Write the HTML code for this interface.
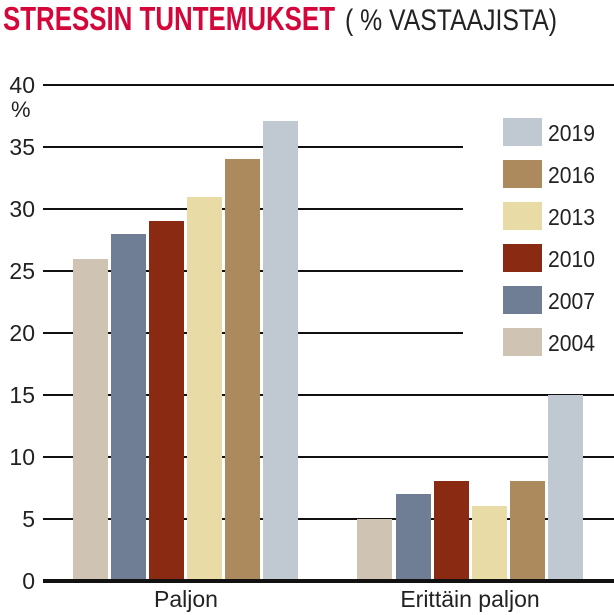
<!DOCTYPE html>
<html><head><meta charset="utf-8"><style>
body{margin:0;background:#fff;width:614px;height:615px;overflow:hidden}
svg{display:block}
text{font-family:"Liberation Sans Narrow","Liberation Sans",sans-serif}
</style></head><body>
<svg width="614" height="615" viewBox="0 0 614 615">
<text x="3" y="30" font-size="33" font-weight="bold" fill="#d4063a" textLength="332" lengthAdjust="spacingAndGlyphs">STRESSIN TUNTEMUKSET</text>
<text x="345" y="30" font-size="30" fill="#222" textLength="212" lengthAdjust="spacingAndGlyphs">( % VASTAAJISTA)</text>
<g stroke="#111" stroke-width="2">
<line x1="43" y1="85" x2="614" y2="85"/>
<line x1="43" y1="147" x2="463" y2="147"/>
<line x1="43" y1="209" x2="463" y2="209"/>
<line x1="43" y1="271" x2="463" y2="271"/>
<line x1="43" y1="333" x2="463" y2="333"/>
<line x1="43" y1="395" x2="614" y2="395"/>
<line x1="43" y1="457" x2="614" y2="457"/>
<line x1="43" y1="519" x2="614" y2="519"/>
</g>
<g font-size="23" fill="#222" text-anchor="end">
<text x="35" y="93">40</text><text x="35" y="155">35</text><text x="35" y="217">30</text>
<text x="35" y="279">25</text><text x="35" y="341">20</text><text x="35" y="403">15</text>
<text x="35" y="465">10</text><text x="35" y="527">5</text><text x="35" y="589">0</text>
</g>
<text x="11" y="117" font-size="22" fill="#222">%</text>
<g>
<rect x="73" y="259" width="35" height="322" fill="#cfc4b4"/>
<rect x="111" y="234" width="35" height="347" fill="#6f7d95"/>
<rect x="149" y="221" width="35" height="360" fill="#8b2a12"/>
<rect x="187" y="197" width="35" height="384" fill="#e9dba6"/>
<rect x="225" y="159" width="35" height="422" fill="#ad8a5e"/>
<rect x="263" y="121" width="35" height="460" fill="#c0c9d2"/>
<rect x="357" y="519" width="35" height="62" fill="#cfc4b4"/>
<rect x="396" y="494" width="35" height="87" fill="#6f7d95"/>
<rect x="434" y="481" width="35" height="100" fill="#8b2a12"/>
<rect x="472" y="506" width="35" height="75" fill="#e9dba6"/>
<rect x="510" y="481" width="35" height="100" fill="#ad8a5e"/>
<rect x="548" y="395" width="35" height="186" fill="#c0c9d2"/>
</g>
<line x1="43" y1="581" x2="614" y2="581" stroke="#111" stroke-width="4"/>
<g font-size="23" fill="#222">
<rect x="503" y="118" width="39" height="28" fill="#c0c9d2"/><text x="548" y="141" textLength="47" lengthAdjust="spacingAndGlyphs">2019</text>
<rect x="503" y="160" width="39" height="28" fill="#ad8a5e"/><text x="548" y="183" textLength="47" lengthAdjust="spacingAndGlyphs">2016</text>
<rect x="503" y="202" width="39" height="28" fill="#e9dba6"/><text x="548" y="225" textLength="47" lengthAdjust="spacingAndGlyphs">2013</text>
<rect x="503" y="244" width="39" height="28" fill="#8b2a12"/><text x="548" y="267" textLength="47" lengthAdjust="spacingAndGlyphs">2010</text>
<rect x="503" y="286" width="39" height="28" fill="#6f7d95"/><text x="548" y="309" textLength="47" lengthAdjust="spacingAndGlyphs">2007</text>
<rect x="503" y="328" width="39" height="28" fill="#cfc4b4"/><text x="548" y="351" textLength="47" lengthAdjust="spacingAndGlyphs">2004</text>
</g>
<g font-size="23" fill="#222" text-anchor="middle">
<text x="186" y="607">Paljon</text>
<text x="470" y="607">Erittäin paljon</text>
</g>
</svg>
</body></html>
